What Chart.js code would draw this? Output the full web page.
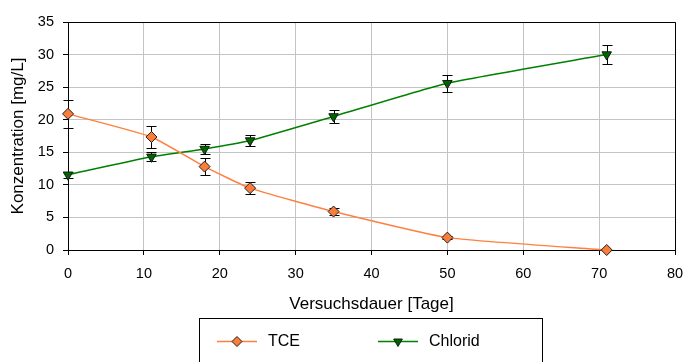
<!DOCTYPE html>
<html>
<head>
<meta charset="utf-8">
<title>TCE / Chlorid</title>
<script src="https://cdn.jsdelivr.net/npm/chart.js@4.4.1/dist/chart.umd.min.js"></script>
<style>
  html, body { margin: 0; padding: 0; background: #fff; }
  #konz { display: block; }
</style>
</head>
<body>
<canvas id="konz" width="686" height="362"></canvas>
<script>
// Versuchsdauer [Tage]
const tage = [0, 11, 18, 24, 35, 50, 71];

// TCE [mg/L] mit Standardabweichung
const tce = [20.9, 17.35, 12.8, 9.5, 5.9, 1.9, 0];
const tceErr = [2.1, 1.7, 1.25, 0.95, 0.6, 0.2, 0];

// Chlorid [mg/L] mit Standardabweichung
const chlorid = [11.55, 14.3, 15.5, 16.8, 20.5, 25.6, 30.0];
const chloridErr = [0.5, 0.7, 0.8, 0.85, 1.05, 1.3, 1.5];

const xTicks = [0, 10, 20, 30, 40, 50, 60, 70, 80];
const yTicks = [0, 5, 10, 15, 20, 25, 30, 35];

const FONT = "'Liberation Sans', Arial, sans-serif";

function points(xs, ys) {
  return xs.map((x, i) => ({ x: x, y: ys[i] }));
}

// Fehlerbalken unter den Markern
const errorBars = {
  id: "errorBars",
  beforeDatasetsDraw(chart) {
    const ctx = chart.ctx;
    const xs = chart.scales.x;
    const ys = chart.scales.y;
    ctx.save();
    ctx.strokeStyle = "#000";
    ctx.lineWidth = 1;
    chart.data.datasets.forEach((ds) => {
      if (!ds.errors) return;
      ds.data.forEach((p, i) => {
        const e = ds.errors[i];
        if (!e) return;
        const x = Math.round(xs.getPixelForValue(p.x)) + 0.5;
        const y1 = Math.round(ys.getPixelForValue(p.y + e)) + 0.5;
        const y2 = Math.round(ys.getPixelForValue(p.y - e)) + 0.5;
        ctx.beginPath();
        ctx.moveTo(x, y1);
        ctx.lineTo(x, y2);
        ctx.moveTo(x - 5, y1);
        ctx.lineTo(x + 5, y1);
        ctx.moveTo(x - 5, y2);
        ctx.lineTo(x + 5, y2);
        ctx.stroke();
      });
    });
    ctx.restore();
  },
};

// Rahmen oben/rechts und Legende im Kasten
const frameAndLegend = {
  id: "frameAndLegend",
  afterDraw(chart) {
    const ctx = chart.ctx;
    const a = chart.chartArea;
    ctx.save();
    ctx.strokeStyle = "#000";
    ctx.lineWidth = 1;
    ctx.beginPath();
    ctx.moveTo(Math.round(a.left) + 0.5, Math.round(a.top) + 0.5);
    ctx.lineTo(Math.round(a.right) + 0.5, Math.round(a.top) + 0.5);
    ctx.lineTo(Math.round(a.right) + 0.5, Math.round(a.bottom) + 0.5);
    ctx.stroke();

    // Legendenkasten
    ctx.strokeRect(199.5, 318.5, 343, 60);

    const items = [
      { ds: chart.data.datasets[0], x: 217 },
      { ds: chart.data.datasets[1], x: 378 },
    ];
    const ly = 341.5;
    items.forEach((it) => {
      const ds = it.ds;
      ctx.strokeStyle = ds.borderColor;
      ctx.lineWidth = ds.borderWidth;
      ctx.beginPath();
      ctx.moveTo(it.x, ly);
      ctx.lineTo(it.x + 40, ly);
      ctx.stroke();
      ctx.fillStyle = ds.pointBackgroundColor;
      ctx.strokeStyle = ds.pointBorderColor;
      ctx.lineWidth = 1;
      Chart.helpers.drawPoint(ctx, {
        pointStyle: ds.pointStyle,
        rotation: ds.pointRotation || 0,
        radius: ds.pointRadius - 0.5,
        borderWidth: 1,
      }, it.x + 20, ly);
      ctx.fillStyle = "#000";
      ctx.font = "16px " + FONT;
      ctx.textBaseline = "middle";
      ctx.textAlign = "left";
      ctx.fillText(ds.label, it.x + 51, ly);
    });
    ctx.restore();
  },
};

new Chart(document.getElementById("konz"), {
  type: "line",
  data: {
    datasets: [
      {
        label: "TCE",
        data: points(tage, tce),
        errors: tceErr,
        borderColor: "#FF8040",
        borderWidth: 1.5,
        pointStyle: "rectRot",
        pointRadius: 5.5,
        pointBackgroundColor: "#FA7D3A",
        pointBorderColor: "#202020",
        pointBorderWidth: 1,
        tension: 0.15,
        clip: false,
      },
      {
        label: "Chlorid",
        data: points(tage, chlorid),
        errors: chloridErr,
        borderColor: "#008000",
        borderWidth: 1.5,
        pointStyle: "triangle",
        pointRotation: 180,
        pointRadius: 5.5,
        pointBackgroundColor: "#006400",
        pointBorderColor: "#102010",
        pointBorderWidth: 1,
        tension: 0.15,
        clip: false,
      },
    ],
  },
  options: {
    responsive: false,
    animation: false,
    layout: {
      padding: { left: 8, top: 22, right: 11, bottom: 46 },
    },
    scales: {
      x: {
        type: "linear",
        min: 0,
        max: 80,
        afterFit(scale) {
          scale.height = 66;
          scale.paddingLeft = 0;
          scale.paddingRight = 0;
        },
        afterBuildTicks(scale) {
          scale.ticks = xTicks.map((v) => ({ value: v }));
        },
        grid: {
          color: "#c4c4c4",
          tickColor: "#000",
          tickLength: 5,
        },
        border: { color: "#000", width: 1 },
        ticks: {
          color: "#000",
          padding: 10,
          maxRotation: 0,
          font: { family: FONT, size: 14.5 },
        },
        title: {
          display: true,
          text: "Versuchsdauer [Tage]",
          color: "#000",
          padding: { top: 0, bottom: 1 },
          font: { family: FONT, size: 17 },
        },
      },
      y: {
        min: 0,
        max: 35,
        afterFit(scale) {
          scale.width = 60;
          scale.paddingTop = 0;
          scale.paddingBottom = 0;
        },
        afterBuildTicks(scale) {
          scale.ticks = yTicks.map((v) => ({ value: v }));
        },
        grid: {
          color: "#c4c4c4",
          tickColor: "#000",
          tickLength: 5,
        },
        border: { color: "#000", width: 1 },
        ticks: {
          color: "#000",
          padding: 9,
          font: { family: FONT, size: 14.5 },
        },
        title: {
          display: true,
          text: "Konzentration [mg/L]",
          color: "#000",
          padding: 0,
          font: { family: FONT, size: 17 },
        },
      },
    },
    plugins: {
      legend: { display: false },
      tooltip: { enabled: false },
    },
  },
  plugins: [errorBars, frameAndLegend],
});
</script>
</body>
</html>
